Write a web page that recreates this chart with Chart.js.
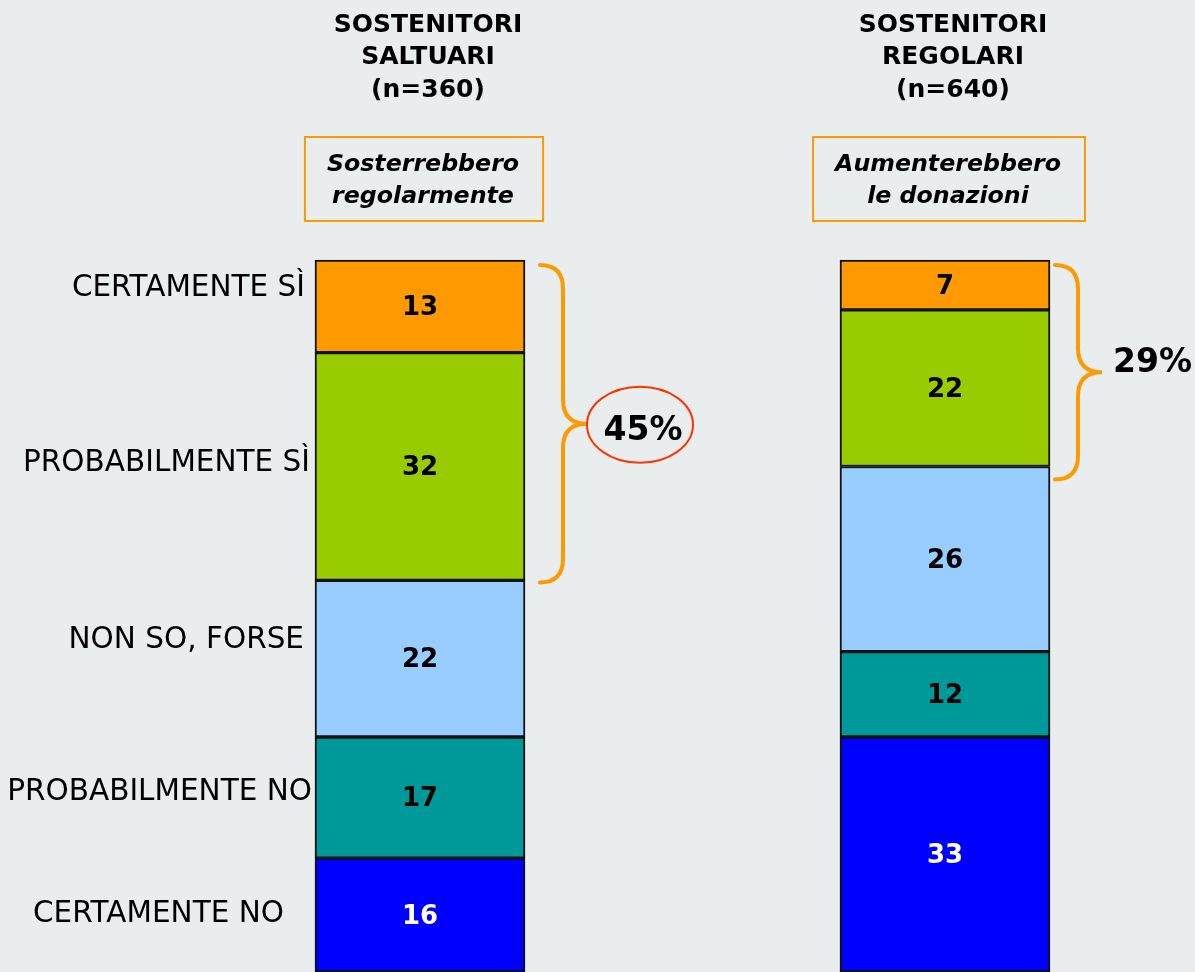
<!DOCTYPE html>
<html><head><meta charset="utf-8">
<script src="https://cdn.jsdelivr.net/npm/chart.js@4.4.1/dist/chart.umd.min.js"></script>
<style>html,body{margin:0;padding:0;background:#E9EDEE;overflow:hidden}#wrap{width:1195px;height:972px;position:relative}</style>
</head><body><div id="wrap"><canvas id="c" width="1195" height="972"></canvas></div>
<script>
const groupLines = [['SOSTENITORI','SALTUARI'],['SOSTENITORI','REGOLARI']];
const sampleSizes = [360, 640];
const questions = [['Sosterrebbero','regolarmente'],['Aumenterebbero','le donazioni']];
const responses = ['CERTAMENTE NO','PROBABILMENTE NO','NON SO, FORSE','PROBABILMENTE SÌ','CERTAMENTE SÌ'];
const certNo = [16, 33];
const probNo = [17, 12];
const nonSo  = [22, 26];
const probSi = [32, 22];
const certSi = [13, 7];
const series = [certNo, probNo, nonSo, probSi, certSi];
const colors = ['#0000FF','#009999','#99CCFF','#99CC00','#FF9900'];
const labelColors = ['#FFFFFF','#000000','#000000','#000000','#000000'];

// layout nudges for the left-side response labels (style only)
const respLabelDx = [31, 3, 11, 5, 10];
const respLabelDy = [-1, -5, -18, -3, -18];
const braceGap = [15, 5];
const braceExtend = [2, 13];
const ellipseOn = [true, false];

const overlay = {
  id: 'overlay',
  afterDatasetsDraw(chart) {
    const ctx = chart.ctx;
    const x = chart.scales.x;
    ctx.save();
    // value labels
    ctx.textAlign = 'center'; ctx.textBaseline = 'middle';
    ctx.font = 'bold 26px "DejaVu Sans"';
    chart.data.datasets.forEach((ds, di) => {
      const meta = chart.getDatasetMeta(di);
      meta.data.forEach((bar, i) => {
        const cy = (bar.y + bar.base) / 2;
        ctx.fillStyle = labelColors[di];
        ctx.fillText(String(ds.data[i]), bar.x, cy + 2);
      });
    });
    // left response labels, aligned to first bar segments
    ctx.font = '29.5px "DejaVu Sans"';
    ctx.textAlign = 'right';
    ctx.fillStyle = '#000';
    chart.data.datasets.forEach((ds, di) => {
      const bar = chart.getDatasetMeta(di).data[0];
      const left = bar.x - bar.width / 2;
      const cy = (bar.y + bar.base) / 2;
      ctx.fillText(responses[di], left - respLabelDx[di], cy + respLabelDy[di]);
    });
    // titles and question boxes
    chart.data.labels.forEach((lab, i) => {
      const cx = x.getPixelForValue(i);
      ctx.textAlign = 'center'; ctx.fillStyle = '#000';
      ctx.font = 'bold 25px "DejaVu Sans"';
      const lines = groupLines[i].concat(['(n=' + sampleSizes[i] + ')']);
      lines.forEach((t, k) => ctx.fillText(t, cx + 8, 25 + k * 32.5));
      ctx.font = 'italic bold 23.7px "DejaVu Sans"';
      const w = Math.max(...questions[i].map(t => ctx.measureText(t).width)) + 46;
      const bx = cx + 4 - w / 2;
      ctx.strokeStyle = '#FF9900'; ctx.lineWidth = 2;
      ctx.strokeRect(bx, 137, w, 84);
      questions[i].forEach((t, k) => ctx.fillText(t, cx + 3, 165 + k * 32));
    });
    // braces: top two response categories
    chart.data.labels.forEach((lab, i) => {
      const top = chart.getDatasetMeta(4).data[i];
      const low = chart.getDatasetMeta(3).data[i];
      const total = certSi[i] + probSi[i];
      const x0 = top.x + top.width / 2 + braceGap[i];
      const yT = top.y + 5, yB = low.base + braceExtend[i];
      const ym = (yT + yB) / 2;
      const xv = x0 + 23, xt = x0 + 47, r = 24;
      ctx.strokeStyle = '#FF9900'; ctx.lineWidth = 4; ctx.lineCap = 'round';
      ctx.beginPath();
      ctx.moveTo(x0, yT);
      ctx.quadraticCurveTo(xv, yT, xv, yT + r);
      ctx.lineTo(xv, ym - r);
      ctx.quadraticCurveTo(xv, ym, xt, ym);
      ctx.quadraticCurveTo(xv, ym, xv, ym + r);
      ctx.lineTo(xv, yB - r);
      ctx.quadraticCurveTo(xv, yB, x0, yB);
      ctx.stroke();
      ctx.fillStyle = '#000';
      ctx.font = 'bold 33px "DejaVu Sans"';
      if (ellipseOn[i]) {
        const ex = xt + 53;
        ctx.strokeStyle = '#FF3300'; ctx.lineWidth = 2;
        ctx.beginPath(); ctx.ellipse(ex, ym + 1, 53, 38, 0, 0, Math.PI * 2); ctx.stroke();
        ctx.textAlign = 'center';
        ctx.fillText(total + '%', ex + 3, ym + 8);
      } else {
        ctx.textAlign = 'left';
        ctx.fillText(total + '%', xt + 11, ym - 9);
      }
    });
    ctx.restore();
  }
};

new Chart(document.getElementById('c'), {
  type: 'bar',
  data: {
    labels: ['SOSTENITORI SALTUARI', 'SOSTENITORI REGOLARI'],
    datasets: series.map((d, i) => ({
      label: responses[i], data: d, backgroundColor: colors[i],
      borderColor: '#111', borderWidth: 2, borderSkipped: false,
      barThickness: 210, clip: false
    }))
  },
  options: {
    responsive: false, animation: false,
    layout: { padding: { left: 420, right: 250, top: 260, bottom: 0 } },
    scales: {
      x: { type: 'category', offset: false, display: false, stacked: true },
      y: { stacked: true, min: 0, max: 100, display: false }
    },
    plugins: { legend: { display: false }, tooltip: { enabled: false } }
  },
  plugins: [overlay]
});
</script></body></html>
